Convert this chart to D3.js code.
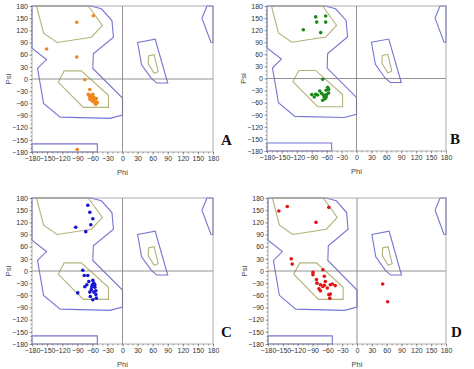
<!DOCTYPE html>
<html>
<head>
<meta charset="utf-8">
<script src="https://cdn.jsdelivr.net/npm/d3@7"></script>
<style>
  body { margin: 0; background: #fff; }
  svg { display: block; font-family: 'Liberation Sans', Arial, sans-serif; }
  .axis text { font-size: 7px; fill: #333; }
  .axis path { display: none; }
  .axis line { stroke: #666; stroke-width: 0.6; }
</style>
</head>
<body>
<svg width="474" height="369"></svg>
<script>
// tick labels
let ticks = d3.range(-180, 181, 30)
let minorTicks = d3.range(-180, 181, 10)

// allowed (blue) and core (olive) regions, [phi, psi]
let allowedMain = [[-180, 180], [-63, 180], [-42, 173], [-21, 144], [-18, 103], [-58, 62],
  [-59, 26], [0, -47], [0, -89], [-25, -97], [-124, -94], [-157, -60], [-169, 26],
  [-151, 48], [-180, 76]]
let allowedBottom = [[-180, -160], [-50, -160], [-50, -180], [-180, -180]]
let allowedTopRight = [[168, 180], [158, 150], [176, 90], [180, 90], [180, 180]]
let allowedLeftHanded = [[30, 90], [65, 98], [90, -10], [68, -10], [57, 2], [38, 35]]
let coreBeta = [[-171, 180], [-157, 113], [-130, 90], [-62, 103], [-40, 132], [-68, 180]]
let coreAlpha = [[-128, -8], [-116, 20], [-82, 20], [-28, -40], [-28, -70], [-78, -70]]
let coreLeftHanded = [[52, 57], [63, 60], [71, 18], [63, 14], [51, 38]]

// residues per panel, [phi, psi]
let pointsA = [[-58, 156], [-91, 140], [-151, 74], [-91, 54], [-75, -2], [-65, -26],
  [-68, -38], [-66, -42], [-64, -45], [-62, -48], [-60, -44], [-58, -50], [-56, -52],
  [-54, -55], [-60, -55], [-65, -50], [-57, -45], [-52, -48], [-55, -60], [-50, -58],
  [-62, -40], [-59, -38], [-53, -62], [-90, -174]]
let pointsB = [[-82, 153], [-62, 155], [-80, 140], [-62, 140], [-107, 121], [-72, 114],
  [-68, -2], [-90, -40], [-85, -46], [-74, -31], [-70, -37], [-65, -46], [-61, -29],
  [-58, -22], [-63, -50], [-66, -41], [-60, -40], [-56, -36], [-78, -41], [-82, -39],
  [-68, -54], [-61, -46], [-56, -27]]
let pointsC = [[-69, 162], [-65, 145], [-59, 129], [-63, 114], [-93, 108], [-73, 97],
  [-79, 2], [-76, -11], [-69, -11], [-59, -23], [-67, -26], [-71, -34], [-60, -34],
  [-55, -34], [-75, -39], [-62, -46], [-57, -52], [-53, -49], [-65, -52], [-53, -58],
  [-64, -63], [-52, -67], [-59, -71], [-89, -54], [-55, -40], [-57, -30], [-61, -39]]
let pointsD = [[-158, 148], [-141, 159], [-57, 157], [-83, 120], [-133, 30], [-131, 17],
  [-69, 3], [-89, -3], [-89, -9], [-66, -13], [-82, -21], [-81, -30], [-74, -34],
  [-69, -38], [-77, -44], [-74, -49], [-66, -35], [-60, -42], [-54, -34], [-50, -32],
  [-44, -36], [-57, -58], [-54, -57], [-55, -67], [-64, -26], [52, -32], [62, -76]]

let panels = [
  { label: 'A', points: pointsA, color: '#f0861c', x0: 32, x1: 213, y0: 6, y1: 152, lx: 221 },
  { label: 'B', points: pointsB, color: '#178a17', x0: 267, x1: 446, y0: 6, y1: 151, lx: 450 },
  { label: 'C', points: pointsC, color: '#1414d2', x0: 32, x1: 213, y0: 198, y1: 344, lx: 221 },
  { label: 'D', points: pointsD, color: '#e01414', x0: 268, x1: 446, y0: 198, y1: 344, lx: 451 },
]

let svg = d3.select('svg')

panels.forEach(p => {
  let x = d3.scaleLinear().domain([-180, 180]).range([p.x0, p.x1])
  let y = d3.scaleLinear().domain([-180, 180]).range([p.y1, p.y0])
  let g = svg.append('g')
  let line = d3.line().x(d => x(d[0])).y(d => y(d[1])).curve(d3.curveLinearClosed)

  // regions
  ;[allowedMain, allowedBottom, allowedTopRight, allowedLeftHanded].forEach(r => {
    g.append('path').attr('d', line(r))
      .attr('fill', 'none').attr('stroke', '#7575d4').attr('stroke-width', 1.1)
  })
  ;[coreBeta, coreAlpha, coreLeftHanded].forEach(r => {
    g.append('path').attr('d', line(r))
      .attr('fill', 'none').attr('stroke', '#b3b27a').attr('stroke-width', 1.1)
  })

  // zero lines
  g.append('line').attr('x1', x(0)).attr('x2', x(0)).attr('y1', y(-180)).attr('y2', y(180))
    .attr('stroke', '#777').attr('stroke-width', 0.8)
  g.append('line').attr('x1', x(-180)).attr('x2', x(180)).attr('y1', y(0)).attr('y2', y(0))
    .attr('stroke', '#777').attr('stroke-width', 0.8)

  // frame
  g.append('rect').attr('x', p.x0).attr('y', p.y0)
    .attr('width', p.x1 - p.x0).attr('height', p.y1 - p.y0)
    .attr('fill', 'none').attr('stroke', '#999').attr('stroke-width', 0.8)

  // axes
  g.append('g').attr('class', 'axis').attr('transform', `translate(0,${p.y1})`)
    .call(d3.axisBottom(x).tickValues(minorTicks).tickSize(1.5).tickFormat(''))
  g.append('g').attr('class', 'axis').attr('transform', `translate(0,${p.y1})`)
    .call(d3.axisBottom(x).tickValues(ticks).tickSize(2.5).tickPadding(1.5))
  g.append('g').attr('class', 'axis').attr('transform', `translate(${p.x0},0)`)
    .call(d3.axisLeft(y).tickValues(minorTicks).tickSize(1.5).tickFormat(''))
  g.append('g').attr('class', 'axis').attr('transform', `translate(${p.x0},0)`)
    .call(d3.axisLeft(y).tickValues(ticks).tickSize(2.5).tickPadding(1.5))

  // axis titles
  g.append('text').attr('x', x(0)).attr('y', p.y1 + 23)
    .attr('text-anchor', 'middle').attr('font-size', 7.5).attr('fill', '#444').text('Phi')
  g.append('text')
    .attr('transform', `translate(${p.x0 - 21},${y(0)}) rotate(-90)`)
    .attr('text-anchor', 'middle').attr('font-size', 7.5).attr('fill', '#444').text('Psi')

  // residues
  g.selectAll('circle.res').data(p.points).join('circle')
    .attr('class', 'res')
    .attr('cx', d => x(d[0])).attr('cy', d => y(d[1])).attr('r', 1.8)
    .attr('fill', p.color)

  // panel letter
  g.append('text').attr('x', p.lx).attr('y', p.y1 - 7)
    .attr('font-family', "'Liberation Serif', 'Times New Roman', serif")
    .attr('font-weight', 'bold').attr('font-size', 15).attr('fill', '#111')
    .text(p.label)
})
</script>
</body>
</html>
